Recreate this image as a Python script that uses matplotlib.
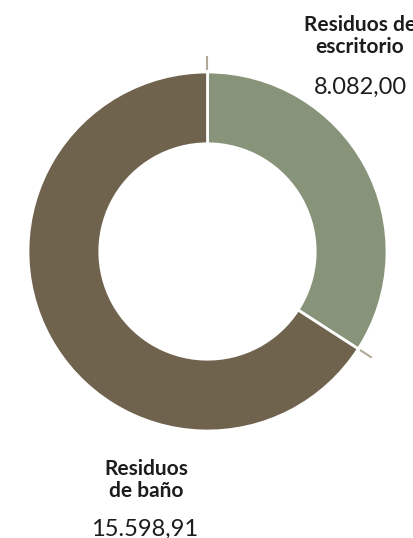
import numpy as np
import matplotlib
matplotlib.use("Agg")
import matplotlib.pyplot as plt

# Waste generated by type
categories = ["Residuos de\nescritorio", "Residuos\nde baño"]
values = [8082.00, 15598.91]
value_labels = ["8.082,00", "15.598,91"]
colors = ["#88947a", "#70634e"]

W, H = 414, 538
fig = plt.figure(figsize=(W / 100, H / 100), dpi=100)
ax = fig.add_axes([0, 0, 1, 1])

cx, cy = 207.5, H - 251.5
R = 179.5
ring = 0.40

wedges, _ = ax.pie(values, colors=colors, startangle=90, counterclock=False,
                   radius=R, center=(cx, cy),
                   wedgeprops=dict(width=R * ring, edgecolor="white", linewidth=2))
ax.set_xlim(0, W)
ax.set_ylim(0, H)
ax.set_aspect("equal")
ax.axis("off")

# short leader ticks at the start of each slice boundary
total = sum(values)
angles = [90, 90 - 360 * values[0] / total]
for a in angles:
    t = np.deg2rad(a)
    r0, r1 = R + 2, R + 16
    ax.plot([cx + r0 * np.cos(t), cx + r1 * np.cos(t)],
            [cy + r0 * np.sin(t), cy + r1 * np.sin(t)],
            color="#b0a898", lw=1.5, solid_capstyle="butt")

txt = "#1c1c1c"
label_pos = [(360, H - 31), (146, H - 475)]
value_pos = [(360, H - 94), (145, H - 536)]
for cat, lab, (lx, ly), (vx, vy) in zip(categories, value_labels, label_pos, value_pos):
    l1, l2 = cat.split("\n")
    ax.text(lx, ly, l1, ha="center", va="baseline", fontsize=15,
            fontweight="bold", family="Lato", color=txt)
    ax.text(lx, ly - 22, l2, ha="center", va="baseline", fontsize=15,
            fontweight="bold", family="Lato", color=txt)
    ax.text(vx, vy, lab, ha="center", va="baseline", fontsize=17,
            family="Lato", color=txt)

fig.savefig("out.png", dpi=100)
